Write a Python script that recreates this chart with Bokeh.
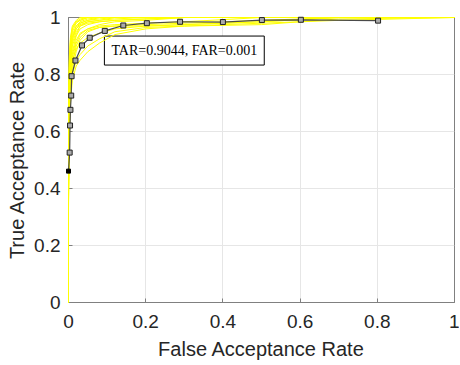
from bokeh.plotting import figure
from bokeh.models import Range1d, FixedTicker, Label
from bokeh.embed import file_html
from bokeh.resources import INLINE

# ---- data ----
mean_far = [0.0, 0.003, 0.004, 0.005, 0.007, 0.008, 0.018, 0.035, 0.055, 0.094,
            0.142, 0.203, 0.289, 0.400, 0.501, 0.602, 0.802]
mean_tar = [0.461, 0.526, 0.621, 0.676, 0.726, 0.794, 0.849, 0.902, 0.929, 0.953,
            0.972, 0.980, 0.985, 0.984, 0.991, 0.992, 0.989]

fold_far = [0.0, 0.0, 0.001, 0.002, 0.005, 0.01, 0.02, 0.03, 0.05, 0.08, 0.12,
            0.2, 0.3, 0.5, 0.7, 1.0]
fold_tar = [
    [0, 0.55, 0.70, 0.80, 0.90, 0.95, 0.98, 0.99, 1.0, 1.0, 1.0, 1.0, 1.0, 1.0, 1.0, 1.0],
    [0, 0.50, 0.65, 0.75, 0.86, 0.92, 0.96, 0.98, 0.99, 1.0, 1.0, 1.0, 1.0, 1.0, 1.0, 1.0],
    [0, 0.45, 0.60, 0.72, 0.83, 0.90, 0.94, 0.97, 0.985, 0.99, 1.0, 1.0, 1.0, 1.0, 1.0, 1.0],
    [0, 0.60, 0.72, 0.82, 0.91, 0.96, 0.985, 0.99, 1.0, 1.0, 1.0, 1.0, 1.0, 1.0, 1.0, 1.0],
    [0, 0.40, 0.55, 0.66, 0.78, 0.86, 0.91, 0.94, 0.96, 0.975, 0.985, 0.99, 1.0, 1.0, 1.0, 1.0],
    [0, 0.35, 0.50, 0.62, 0.74, 0.82, 0.88, 0.92, 0.95, 0.965, 0.97, 0.975, 0.98, 0.99, 1.0, 1.0],
    [0, 0.48, 0.62, 0.76, 0.87, 0.93, 0.97, 0.985, 0.995, 1.0, 1.0, 1.0, 1.0, 1.0, 1.0, 1.0],
    [0, 0.42, 0.58, 0.70, 0.80, 0.87, 0.92, 0.945, 0.96, 0.97, 0.975, 0.98, 0.985, 1.0, 1.0, 1.0],
    [0, 0.65, 0.78, 0.86, 0.93, 0.97, 0.99, 1.0, 1.0, 1.0, 1.0, 1.0, 1.0, 1.0, 1.0, 1.0],
    [0, 0.52, 0.68, 0.78, 0.88, 0.93, 0.96, 0.975, 0.985, 0.99, 0.995, 1.0, 1.0, 1.0, 1.0, 1.0],
    [0, 0.38, 0.52, 0.64, 0.76, 0.84, 0.90, 0.93, 0.955, 0.965, 0.97, 0.97, 0.975, 0.985, 1.0, 1.0],
    [0, 0.58, 0.73, 0.84, 0.92, 0.965, 0.985, 0.995, 1.0, 1.0, 1.0, 1.0, 1.0, 1.0, 1.0, 1.0],
    [0, 0.44, 0.57, 0.69, 0.81, 0.88, 0.935, 0.96, 0.975, 0.985, 0.99, 0.995, 1.0, 1.0, 1.0, 1.0],
    [0, 0.50, 0.66, 0.78, 0.89, 0.94, 0.97, 0.98, 0.99, 0.995, 1.0, 1.0, 1.0, 1.0, 1.0, 1.0],
    [0, 0.46, 0.61, 0.73, 0.84, 0.91, 0.95, 0.97, 0.98, 0.985, 0.99, 0.995, 1.0, 1.0, 1.0, 1.0],
    [0, 0.33, 0.46, 0.58, 0.70, 0.78, 0.83, 0.85, 0.88, 0.91, 0.94, 0.96, 0.97, 0.98, 0.99, 1.0],
    [0, 0.36, 0.49, 0.60, 0.72, 0.80, 0.85, 0.87, 0.90, 0.925, 0.95, 0.965, 0.97, 0.975, 0.995, 1.0],
    [0, 0.41, 0.54, 0.65, 0.77, 0.85, 0.89, 0.91, 0.93, 0.945, 0.96, 0.97, 0.975, 0.985, 1.0, 1.0],
]

ticks = [0, 0.2, 0.4, 0.6, 0.8, 1]
tick_labels = ["0", "0.2", "0.4", "0.6", "0.8", "1"]
annotation = "TAR=0.9044, FAR=0.001"

# ---- figure ----
p = figure(frame_width=386, frame_height=285, output_backend="svg", toolbar_location=None,
           x_range=Range1d(0, 1), y_range=Range1d(0, 1),
           min_border_left=68, min_border_right=5, min_border_top=17, min_border_bottom=60)
p.background_fill_color = "white"
p.border_fill_color = "white"
p.outline_line_color = "#808080"
p.outline_line_width = 1

for ax, lab in ((p.xaxis[0], "False Acceptance Rate"), (p.yaxis[0], "True Acceptance Rate")):
    ax.ticker = FixedTicker(ticks=ticks)
    ax.major_label_overrides = {t: l for t, l in zip(ticks, tick_labels)}
    ax.axis_label = lab
    ax.axis_label_text_font = "Liberation Sans"
    ax.axis_label_text_font_style = "normal"
    ax.axis_label_text_font_size = "20px"
    ax.axis_label_text_color = "#262626"
    ax.major_label_text_font = "Liberation Sans"
    ax.major_label_text_font_size = "19px"
    ax.major_label_text_color = "#262626"
    ax.axis_line_color = "#808080"
    ax.major_tick_line_color = "#808080"
    ax.major_tick_in = 4
    ax.major_tick_out = 0
    ax.minor_tick_line_color = None

p.xaxis.major_label_standoff = 12
p.xaxis.axis_label_standoff = 7
p.yaxis.major_label_standoff = 8
p.yaxis.axis_label_standoff = 3

p.xgrid.ticker = FixedTicker(ticks=ticks)
p.ygrid.ticker = FixedTicker(ticks=ticks)
p.grid.grid_line_color = "#e6e6e6"
p.grid.grid_line_width = 1

r1 = p.multi_line(xs=[fold_far] * len(fold_tar), ys=fold_tar, line_color="#ffff00", line_width=1)

r2 = p.line(mean_far, mean_tar, line_color="#4a4a4a", line_width=1.2)
r3 = p.scatter(mean_far[1:], mean_tar[1:], marker="square", size=5,
               line_color="#222222", fill_color="#aaaaaa", line_width=1)
r4 = p.scatter(mean_far[:1], mean_tar[:1], marker="square", size=4,
               line_color="black", fill_color="black")
for r in (r1, r2, r3, r4):
    r.level = "overlay"

lbl = Label(x=0.093, y=0.884, text=annotation, text_font="Liberation Serif",
            text_font_size="14px", text_color="black", text_baseline="middle",
            text_align="left", border_line_color="black", border_line_width=1,
            background_fill_color="white", padding=7)
p.add_layout(lbl)

open("out.html", "w").write(file_html(p, INLINE))
